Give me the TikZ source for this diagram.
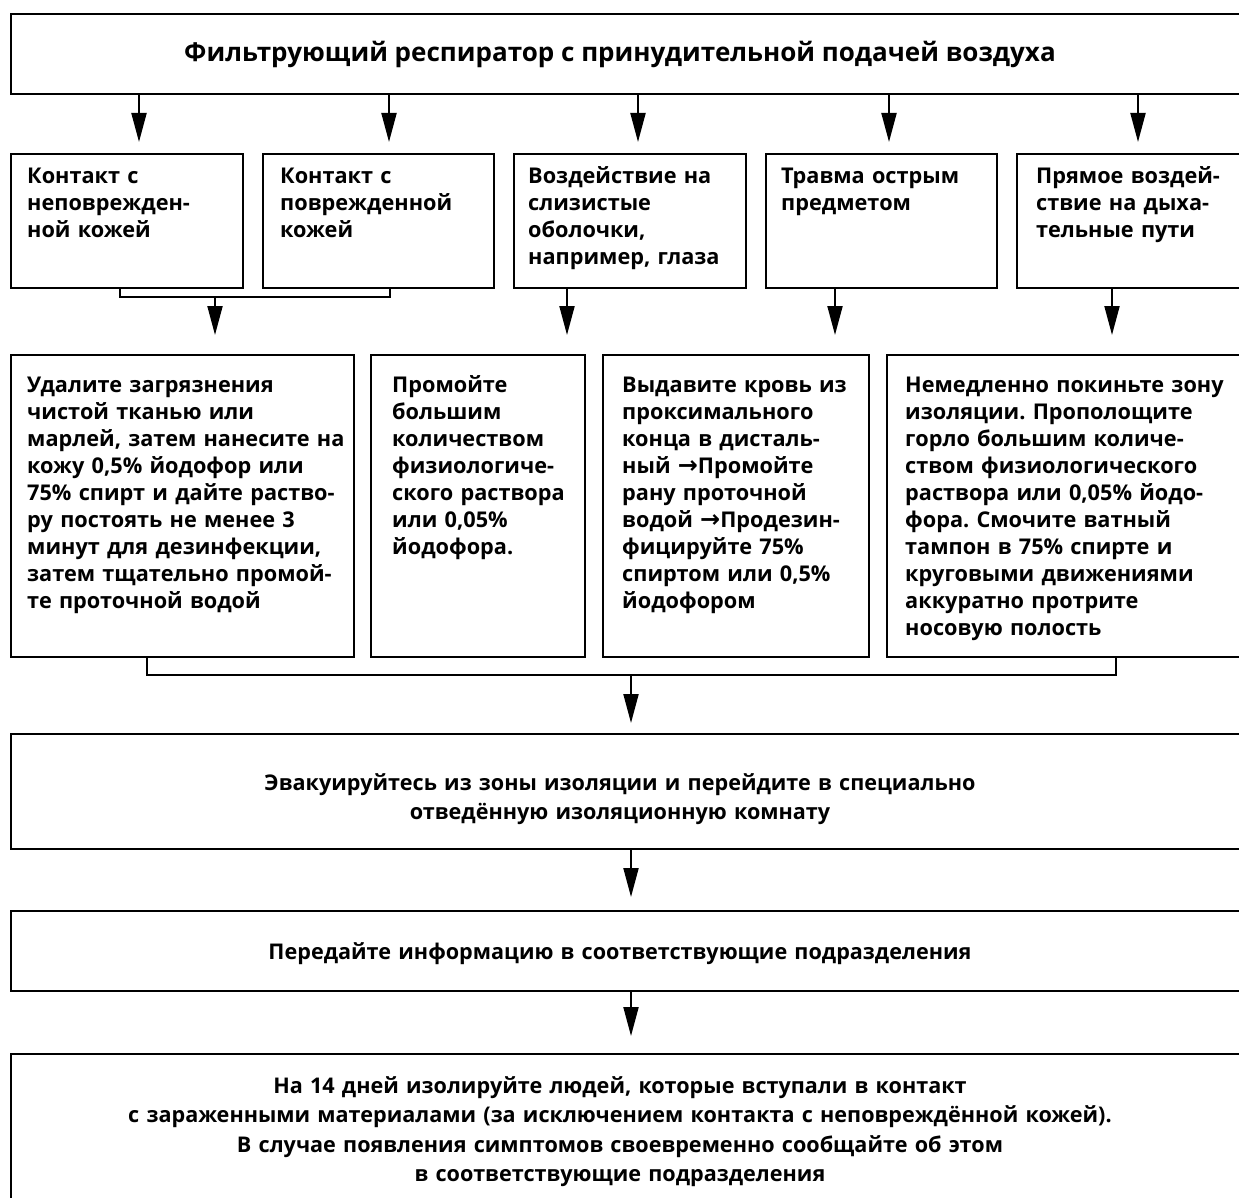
\documentclass[tikz,border=0pt]{standalone}
\usepackage{fontspec}
\setmainfont{Open Sans}
\newfontfamily\arrowfont{DejaVu Sans}
\usetikzlibrary{arrows.meta}
\frenchspacing
\begin{document}
\begin{tikzpicture}[x=1pt,y=-1pt,
  box/.style={draw, line width=2.2pt, rectangle, anchor=north west, inner sep=0pt},
  arr/.style={line width=2pt, -{Triangle[length=29pt,width=15pt]}},
  lnk/.style={line width=2pt},
  txt/.style={anchor=base west, inner sep=0pt, align=left, text width=420pt,
    font=\bfseries\fontsize{21.7}{27}\selectfont},
  ctxt/.style={anchor=base, inner sep=0pt, align=center, text width=1200pt,
    font=\bfseries\fontsize{21.6}{29.5}\selectfont},
]
\path[use as bounding box, clip] (0,0) rectangle (1239,1198);

% boxes
\node[box, minimum width=1260pt, minimum height=80pt] (T) at (10,13) {};
\node[box, minimum width=232pt, minimum height=134pt] (b1) at (10,153) {};
\node[box, minimum width=231pt, minimum height=134pt] (b2) at (262,153) {};
\node[box, minimum width=232pt, minimum height=134pt] (b3) at (513,153) {};
\node[box, minimum width=231pt, minimum height=134pt] (b4) at (765,153) {};
\node[box, minimum width=260pt, minimum height=134pt] (b5) at (1016,153) {};
\node[box, minimum width=343pt, minimum height=302pt] (a1) at (10,354) {};
\node[box, minimum width=214pt, minimum height=302pt] (a2) at (370,354) {};
\node[box, minimum width=266pt, minimum height=302pt] (a3) at (602,354) {};
\node[box, minimum width=380pt, minimum height=302pt] (a4) at (886,354) {};
\node[box, minimum width=1260pt, minimum height=115pt] (E) at (10,733) {};
\node[box, minimum width=1260pt, minimum height=80pt] (F) at (10,910) {};
\node[box, minimum width=1260pt, minimum height=200pt] (G) at (10,1053) {};

% texts
\node[anchor=base, inner sep=0pt, font=\bfseries\fontsize{26}{31}\selectfont] (tT) at (620,62)
  {Фильтрующий респиратор с принудительной подачей воздуха};
\node[txt] (tb1) at (27,184) {Контакт с\\неповрежден-\\ной кожей};
\node[txt] (tb2) at (280,184) {Контакт с\\поврежденной\\кожей};
\node[txt] (tb3) at (528,184) {Воздействие на\\слизистые\\оболочки,\\например, глаза};
\node[txt] (tb4) at (781,184) {Травма острым\\предметом};
\node[txt] (tb5) at (1036,184) {Прямое воздей-\\ствие на дыха-\\тельные пути};
\node[txt] (ta1) at (27,392) {Удалите загрязнения\\чистой тканью или\\марлей, затем нанесите на\\кожу 0,5\% йодофор или\\75\% спирт и дайте раство-\\ру постоять не менее 3\\минут для дезинфекции,\\затем тщательно промой-\\те проточной водой};
\node[txt] (ta2) at (392,392) {Промойте\\большим\\количеством\\физиологиче-\\ского раствора\\или 0,05\%\\йодофора.};
\node[txt] (ta3) at (622,392) {Выдавите кровь из\\проксимального\\конца в дисталь-\\ный {\arrowfont\fontsize{24}{27}\selectfont →}Промойте\\рану проточной\\водой {\arrowfont\fontsize{24}{27}\selectfont →}Продезин-\\фицируйте 75\%\\спиртом или 0,5\%\\йодофором};
\node[txt] (ta4) at (905,392) {Немедленно покиньте зону\\изоляции. Прополощите\\горло большим количе-\\ством физиологического\\раствора или 0,05\% йодо-\\фора. Смочите ватный\\тампон в 75\% спирте и\\круговыми движениями\\аккуратно протрите\\носовую полость};
\node[ctxt] (tE) at (620,790) {Эвакуируйтесь из зоны изоляции и перейдите в специально\\отведённую изоляционную комнату};
\node[ctxt] (tF) at (620,959) {Передайте информацию в соответствующие подразделения};
\node[ctxt] (tG) at (620,1093) {На 14 дней изолируйте людей, которые вступали в контакт\\с зараженными материалами (за исключением контакта с неповреждённой кожей).\\В случае появления симптомов своевременно сообщайте об этом\\в соответствующие подразделения};

% arrow x positions
\coordinate (x1) at (139,0);
\coordinate (x2) at (389,0);
\coordinate (x3) at (638,0);
\coordinate (x4) at (889,0);
\coordinate (x5) at (1138,0);
\coordinate (m1) at (120,0);
\coordinate (m2) at (390,0);
\coordinate (j1) at (215,297);
\coordinate (y3) at (567,0);
\coordinate (y4) at (835,0);
\coordinate (y5) at (1112,0);
\coordinate (n1) at (147,0);
\coordinate (n2) at (1116,0);
\coordinate (j2) at (631,675);

% connectors
\draw[arr, shorten >=11pt] (T.south -| x1) -- (b1.north -| x1);
\draw[arr, shorten >=11pt] (T.south -| x2) -- (b2.north -| x2);
\draw[arr, shorten >=11pt] (T.south -| x3) -- (b3.north -| x3);
\draw[arr, shorten >=11pt] (T.south -| x4) -- (b4.north -| x4);
\draw[arr, shorten >=11pt] (T.south -| x5) -- (b5.north -| x5);

\draw[lnk] (b1.south -| m1) |- (j1) -| (b2.south -| m2);
\draw[arr, shorten >=19pt] (j1) -- (a1.north -| j1);
\draw[arr, shorten >=19pt] (b3.south -| y3) -- (a2.north -| y3);
\draw[arr, shorten >=19pt] (b4.south -| y4) -- (a3.north -| y4);
\draw[arr, shorten >=19pt] (b5.south -| y5) -- (a4.north -| y5);

\draw[lnk] (a1.south -| n1) |- (j2) -| (a4.south -| n2);
\draw[arr, shorten >=10pt] (j2) -- (E.north -| j2);
\draw[arr, shorten >=13pt] (E.south -| j2) -- (F.north -| j2);
\draw[arr, shorten >=17pt] (F.south -| j2) -- (G.north -| j2);
\end{tikzpicture}
\end{document}
